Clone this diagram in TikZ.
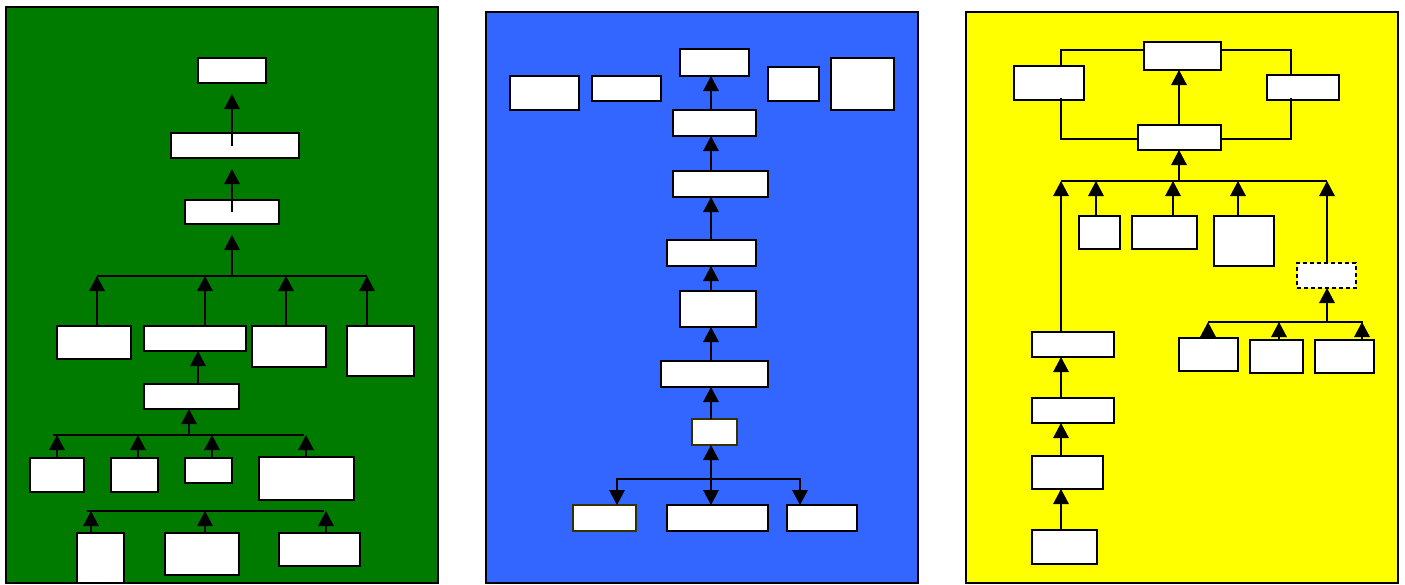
\documentclass[tikz,border=0pt]{standalone}
\usetikzlibrary{arrows.meta}
\definecolor{panelgreen}{RGB}{0,123,0}
\definecolor{panelblue}{RGB}{51,102,255}
\definecolor{panelyellow}{RGB}{255,255,0}
\definecolor{darkolive}{RGB}{51,51,0}
% \boxat[extra style]{name}{x1}{y1}{x2}{y2}: empty white box between two corners
\newcommand\boxat[6][]{%
  \node[box,#1,minimum width={(#5)-(#3)},minimum height={(#6)-(#4)}] (#2)
    at ({((#3)+(#5))/2},{((#4)+(#6))/2}) {};}
\begin{document}
\begin{tikzpicture}[x=1pt,y=-1pt,
  box/.style={draw=black,fill=white,line width=1.6pt,inner sep=0pt,outer sep=0pt},
  dashbox/.style={line width=1.1pt,dash pattern=on 4pt off 3pt},
  ln/.style={line width=1.5pt},
  arr/.style={ln,-{Triangle[width=15.5pt,length=15pt]}},
  panel/.style={draw=black,line width=2pt}]

\useasboundingbox (0,0) rectangle (1405,584);
\fill[white] (0,0) rectangle (1405,584);

% three coloured panels
\draw[panel,fill=panelgreen]  (6,7)    rectangle (438,583);
\draw[panel,fill=panelblue]   (486,12) rectangle (918,583);
\draw[panel,fill=panelyellow] (966,12) rectangle (1398,583);

% ---------------- green tree ----------------
\boxat{gB1}{198}{58}{266}{83}
\boxat{gB2}{171}{133}{299}{158}
\boxat{gB3}{185}{200}{279}{224}
\boxat{gA1}{57}{326}{131}{359}
\boxat{gA2}{144}{326}{246}{351}
\boxat{gA3}{252}{326}{326}{367}
\boxat{gA4}{347}{326}{414}{376}
\boxat{gC}{144}{384}{239}{409}
\boxat{gD1}{30}{458}{84}{492}
\boxat{gD2}{111}{458}{158}{492}
\boxat{gD3}{185}{458}{232}{483}
\boxat{gD4}{259}{457}{354}{500}
\boxat{gE1}{77}{533}{124}{583}
\boxat{gE2}{165}{533}{239}{575}
\boxat{gE3}{279}{533}{360}{566}

\coordinate (gx0) at (232,276);
\coordinate (gbusL) at (97,276);
\coordinate (gbusR) at (367,276);
\coordinate (gc2) at (205,276);
\coordinate (gc3) at (286,276);
\draw[arr,shorten >=11pt] (gB1.south |- gB2.center) -- (gB1.south);
\draw[arr,shorten >=11pt] (gB1.south |- gB3.center) -- (gB2.south -| gB1.south);
\draw[arr,shorten >=11pt] (gx0) -- (gB3.south -| gx0);
\draw[ln] (gbusL) -- (gbusR);
\draw[arr] (gA1.north -| gbusL) -- (gbusL);
\draw[arr] (gA2.north -| gc2) -- (gc2);
\draw[arr] (gA3.north -| gc3) -- (gc3);
\draw[arr] (gA4.north -| gbusR) -- (gbusR);

\coordinate (gcx) at (198,0);
\draw[arr] (gC.north -| gcx) -- (gA2.south -| gcx);

\coordinate (g2L) at (53,435);
\coordinate (g2R) at (304,435);
\coordinate (g2M) at (189,435);
\coordinate (g2a) at (57,435);
\coordinate (g2b) at (138,435);
\coordinate (g2c) at (212,435);
\coordinate (g2d) at (306,435);
\draw[ln] (g2L) -- (g2R);
\draw[arr] (g2M) -- (gC.south -| g2M);
\draw[arr] (gD1.north -| g2a) -- (g2a);
\draw[arr] (gD2.north -| g2b) -- (g2b);
\draw[arr] (gD3.north -| g2c) -- (g2c);
\draw[arr] (gD4.north -| g2d) -- (g2d);

\coordinate (g3L) at (87,511);
\coordinate (g3R) at (324,511);
\coordinate (g3a) at (91,511);
\coordinate (g3b) at (205,511);
\coordinate (g3c) at (326,511);
\draw[ln] (g3L) -- (g3R);
\draw[arr] (gE1.north -| g3a) -- (g3a);
\draw[arr] (gE2.north -| g3b) -- (g3b);
\draw[arr] (gE3.north -| g3c) -- (g3c);

% ---------------- blue chain ----------------
\boxat{bT}{680}{49}{749}{76}
\boxat{bL1}{510}{76}{579}{110}
\boxat{bL2}{592}{76}{661}{101}
\boxat{bR1}{768}{67}{819}{101}
\boxat{bR2}{831}{58}{894}{110}
\boxat{bM1}{673}{110}{756}{136}
\boxat{bM2}{673}{171}{768}{197}
\boxat{bM3}{667}{240}{756}{266}
\boxat{bM4}{680}{291}{756}{327}
\boxat{bM5}{661}{361}{768}{387}
\boxat[draw=darkolive]{bM6}{692}{419}{737}{445}
\boxat[draw=darkolive]{bK1}{573}{505}{636}{531}
\boxat{bK2}{667}{505}{768}{531}
\boxat{bK3}{787}{505}{857}{531}

\coordinate (bx) at (711,479);
\coordinate (bL) at (617,479);
\coordinate (bR) at (800,479);
\draw[arr] (bM1.north -| bx) -- (bT.south -| bx);
\draw[arr] (bM2.north -| bx) -- (bM1.south -| bx);
\draw[arr] (bM3.north -| bx) -- (bM2.south -| bx);
\draw[arr] (bM4.north -| bx) -- (bM3.south -| bx);
\draw[arr] (bM5.north -| bx) -- (bM4.south -| bx);
\draw[arr] (bM6.north -| bx) -- (bM5.south -| bx);
\draw[arr] (bx) -- (bM6.south -| bx);
\draw[arr] (bx) -- (bK2.north -| bx);
\draw[arr] (bx) -- (bL) -- (bK1.north -| bL);
\draw[arr] (bx) -- (bR) -- (bK3.north -| bR);

% ---------------- yellow tree ----------------
\boxat{yT}{1144}{42}{1221}{70}
\boxat{yL}{1014}{66}{1084}{100}
\boxat{yR}{1267}{75}{1339}{100}
\boxat{yM}{1138}{125}{1221}{150}
\boxat{yS1}{1079}{216}{1120}{249}
\boxat{yS2}{1132}{216}{1197}{249}
\boxat{yS3}{1214}{216}{1274}{266}
\boxat[dashbox]{yDs}{1297}{263}{1356}{288}
\boxat{yQ1}{1179}{338}{1238}{371}
\boxat{yQ2}{1250}{340}{1303}{373}
\boxat{yQ3}{1315}{340}{1374}{373}
\boxat{yV1}{1032}{332}{1114}{357}
\boxat{yV2}{1032}{398}{1114}{423}
\boxat{yV3}{1032}{456}{1103}{489}
\boxat{yV4}{1032}{530}{1097}{564}

% loop around the top group
\coordinate (ylx) at (1061,50);
\coordinate (yrx) at (1291,50);
\coordinate (ylow) at (1061,139);
\coordinate (ylowR) at (1291,139);
\coordinate (ymx) at (1179,0);
\draw[ln] (yL.north -| ylx) -- (ylx) -- (yT.west |- ylx);
\draw[ln] (yT.east |- ylx) -- (yrx) -- (yR.north -| yrx);
\draw[ln] ([yshift=2pt]yL.south -| ylx) -- (ylow) -- (yM.west |- ylow);
\draw[ln] ([yshift=2pt]yR.south -| yrx) -- (ylowR) -- (yM.east |- ylowR);
\draw[arr] (yM.north -| ymx) -- (yT.south -| ymx);

% upper bus
\coordinate (ybus) at (1179,181);
\coordinate (ybL) at (1061,181);
\coordinate (ybR) at (1327,181);
\coordinate (yb1) at (1096,181);
\coordinate (yb2) at (1173,181);
\coordinate (yb3) at (1238,181);
\draw[ln] (ybL) -- (ybR);
\draw[arr] (ybus) -- (yM.south -| ymx);
\draw[arr] (yV1.north -| ybL) -- (ybL);
\draw[arr] (yS1.north -| yb1) -- (yb1);
\draw[arr] (yS2.north -| yb2) -- (yb2);
\draw[arr] (yS3.north -| yb3) -- (yb3);
\draw[arr] (yDs.north -| ybR) -- (ybR);

% lower right bus
\coordinate (yq) at (1327,322);
\coordinate (yqL) at (1208,322);
\coordinate (yqR) at (1363,322);
\coordinate (yq2) at (1279,322);
\coordinate (yq3) at (1362,322);
\draw[ln] (yqL) -- (yqR);
\draw[arr] (yq) -- (yDs.south -| yq);
\draw[arr] (yQ1.north -| yqL) -- (yqL);
\draw[arr] (yQ2.north -| yq2) -- (yq2);
\draw[arr] (yQ3.north -| yq3) -- (yq3);

% left column
\draw[arr] (yV2.north -| ylx) -- (yV1.south -| ylx);
\draw[arr] (yV3.north -| ylx) -- (yV2.south -| ylx);
\draw[arr] (yV4.north -| ylx) -- (yV3.south -| ylx);
\end{tikzpicture}
\end{document}
